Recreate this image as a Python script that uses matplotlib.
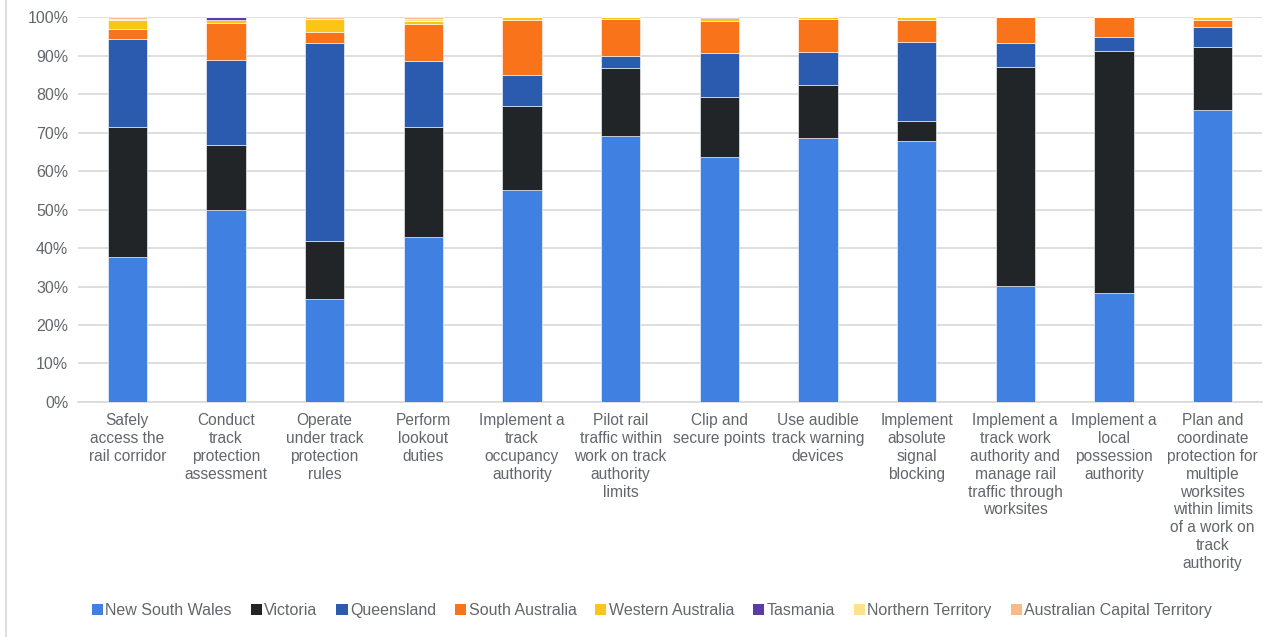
import matplotlib.pyplot as plt
import numpy as np
from matplotlib.patches import Patch

plt.rcParams['font.family'] = ['Liberation Sans', 'DejaVu Sans']

categories = [
    'Safely\naccess the\nrail corridor',
    'Conduct\ntrack\nprotection\nassessment',
    'Operate\nunder track\nprotection\nrules',
    'Perform\nlookout\nduties',
    'Implement a\ntrack\noccupancy\nauthority',
    'Pilot rail\ntraffic within\nwork on track\nauthority\nlimits',
    'Clip and\nsecure points',
    'Use audible\ntrack warning\ndevices',
    'Implement\nabsolute\nsignal\nblocking',
    'Implement a\ntrack work\nauthority and\nmanage rail\ntraffic through\nworksites',
    'Implement a\nlocal\npossession\nauthority',
    'Plan and\ncoordinate\nprotection for\nmultiple\nworksites\nwithin limits\nof a work on\ntrack\nauthority',
]

states = ['New South Wales', 'Victoria', 'Queensland', 'South Australia',
          'Western Australia', 'Tasmania', 'Northern Territory',
          'Australian Capital Territory']

nsw = [37.7, 49.9, 26.8, 42.9, 55.1, 69.1, 63.6, 68.6, 67.8, 30.1, 28.3, 75.8]
vic = [33.7, 16.9, 15.0, 28.5, 21.8, 17.8, 15.7, 13.8, 5.2, 57.0, 63.0, 16.5]
qld = [22.9, 22.1, 51.6, 17.2, 8.2, 3.1, 11.4, 8.6, 20.6, 6.2, 3.5, 5.2]
sa = [2.6, 9.6, 2.8, 9.7, 14.3, 9.5, 8.3, 8.5, 5.7, 6.7, 5.2, 1.8]
wa = [2.3, 0.7, 3.4, 0.7, 0.6, 0.5, 0.7, 0.5, 0.7, 0.0, 0.0, 0.7]
tas = [0.0, 0.8, 0.0, 0.0, 0.0, 0.0, 0.3, 0.0, 0.0, 0.0, 0.0, 0.0]
nt = [0.3, 0.0, 0.0, 0.5, 0.0, 0.0, 0.0, 0.0, 0.0, 0.0, 0.0, 0.0]
act = [0.5, 0.0, 0.4, 0.5, 0.0, 0.0, 0.0, 0.0, 0.0, 0.0, 0.0, 0.0]

series = [nsw, vic, qld, sa, wa, tas, nt, act]
colors = ['#3F80E0', '#222528', '#2B5BAF', '#F8731A', '#FAC515',
          '#5B3BA6', '#FCE28A', '#FBB98A']
text_color = '#63666b'

fig = plt.figure(figsize=(12.66, 6.37), dpi=100)
ax = fig.add_axes([0.0616, 0.369, 0.9352, 0.604])

x = np.arange(len(categories))
bottom = np.zeros(len(categories))
for vals, c, name in zip(series, colors, states):
    v = np.array(vals)
    ax.bar(x, v, 0.4, bottom=bottom, color=c, edgecolor='white',
           linewidth=0.4, label=name, zorder=3)
    bottom += v

ax.set_xlim(-0.5, len(categories) - 0.5)
ax.set_ylim(0, 100)
ax.set_yticks(np.arange(0, 101, 10))
ax.set_yticklabels([f'{t}%' for t in range(0, 101, 10)], fontsize=11.5)
ax.yaxis.grid(True, color='#d9d9d9', linewidth=1.2, zorder=0)
ax.set_xticks(x)
ax.set_xticklabels(categories, linespacing=1.24, fontsize=11.2)
for s in ['top', 'right', 'left']:
    ax.spines[s].set_visible(False)
ax.spines['bottom'].set_color('#d9d9d9')
ax.spines['bottom'].set_linewidth(1.2)
ax.tick_params(axis='both', length=0, colors=text_color)
ax.tick_params(axis='y', pad=7)
ax.tick_params(axis='x', pad=8)

handles = [Patch(facecolor=c, label=n) for c, n in zip(colors, states)]
fig.legend(handles=handles, loc='center', bbox_to_anchor=(0.515, 0.042),
           ncol=8, frameon=False, fontsize=11.5, handlelength=0.7,
           handleheight=0.7, handletextpad=0.15, columnspacing=1.18,
           labelcolor=text_color)

fig.add_artist(plt.Line2D([0.005, 0.005], [0.0, 1.0], color='#d9d9d9',
                          linewidth=1.2, transform=fig.transFigure))

fig.savefig('out.png', dpi=100)
